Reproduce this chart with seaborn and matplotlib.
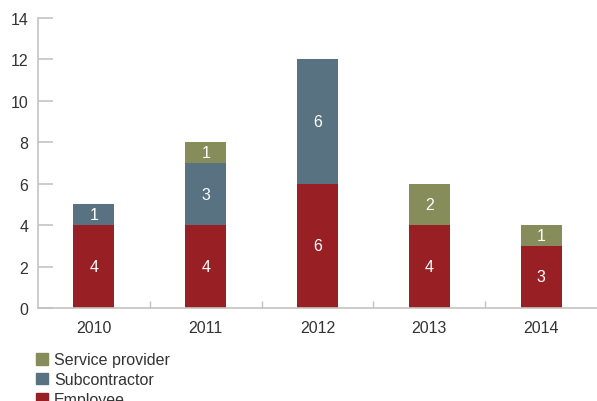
import matplotlib
matplotlib.use("Agg")
import matplotlib.pyplot as plt
import seaborn as sns
import numpy as np
import pandas as pd
from matplotlib.patches import Patch
from matplotlib.ticker import FixedLocator

years = ["2010", "2011", "2012", "2013", "2014"]
employee = [4, 4, 6, 4, 3]
subcontractor = [1, 3, 6, 0, 0]
service_provider = [0, 1, 0, 2, 1]
y_ticks = [0, 2, 4, 6, 8, 10, 12, 14]

c_emp = "#982024"
c_sub = "#587282"
c_svc = "#868c5a"
axis_gray = "#c3c3c3"
text_color = "#333333"

sns.set_theme(style="white")
plt.rcParams['font.family'] = ['Liberation Sans', 'DejaVu Sans']

fig = plt.figure(figsize=(5.97, 4.02), dpi=100)
ax = fig.add_axes([38 / 597, 1 - 309 / 402, 1 - 38 / 597, (309 - 19) / 402])

emp = np.array(employee)
sub = np.array(subcontractor)
svc = np.array(service_provider)
df = pd.DataFrame({
    "year": years,
    "total": emp + sub + svc,
    "emp_sub": emp + sub,
    "emp": emp,
})

w = 41 / 112
sns.barplot(data=df, x="year", y="total", color=c_svc, width=w, saturation=1, ax=ax, linewidth=0)
sns.barplot(data=df, x="year", y="emp_sub", color=c_sub, width=w, saturation=1, ax=ax, linewidth=0)
sns.barplot(data=df, x="year", y="emp", color=c_emp, width=w, saturation=1, ax=ax, linewidth=0)

fs = 11.5

# segment labels
for i in range(len(years)):
    base = 0
    for val in (employee[i], subcontractor[i], service_provider[i]):
        if val > 0:
            ax.text(i, base + val / 2, str(val), ha="center", va="center",
                    color="white", fontsize=fs)
        base += val

ax.set_xlim(-0.5, len(years) - 0.5)
ax.set_ylim(0, 14)
ax.set_yticks(y_ticks)
ax.set_xlabel("")
ax.set_ylabel("")

for s in ["top", "right"]:
    ax.spines[s].set_visible(False)
for s in ["left", "bottom"]:
    ax.spines[s].set_color(axis_gray)
    ax.spines[s].set_linewidth(1.2)

ax.tick_params(axis="y", direction="in", length=10.5, width=1.2, color=axis_gray,
               labelsize=fs, labelcolor=text_color, pad=7, left=True)
ax.tick_params(axis="x", which="major", length=0, labelsize=fs,
               labelcolor=text_color, pad=9)
ax.xaxis.set_minor_locator(FixedLocator([0.5, 1.5, 2.5, 3.5]))
ax.tick_params(axis="x", which="minor", direction="in", length=5, width=1,
               color=axis_gray, bottom=True)

handles = [Patch(color=c_svc, label="Service provider"),
           Patch(color=c_sub, label="Subcontractor"),
           Patch(color=c_emp, label="Employee")]
fig.legend(handles=handles, loc="upper left", bbox_to_anchor=(30 / 597, 1 - 347 / 402),
           frameon=False, fontsize=fs, handlelength=0.75, handleheight=0.75,
           handletextpad=0.35, labelspacing=0.3, borderaxespad=0, labelcolor=text_color)

fig.savefig("out.png", dpi=100)
